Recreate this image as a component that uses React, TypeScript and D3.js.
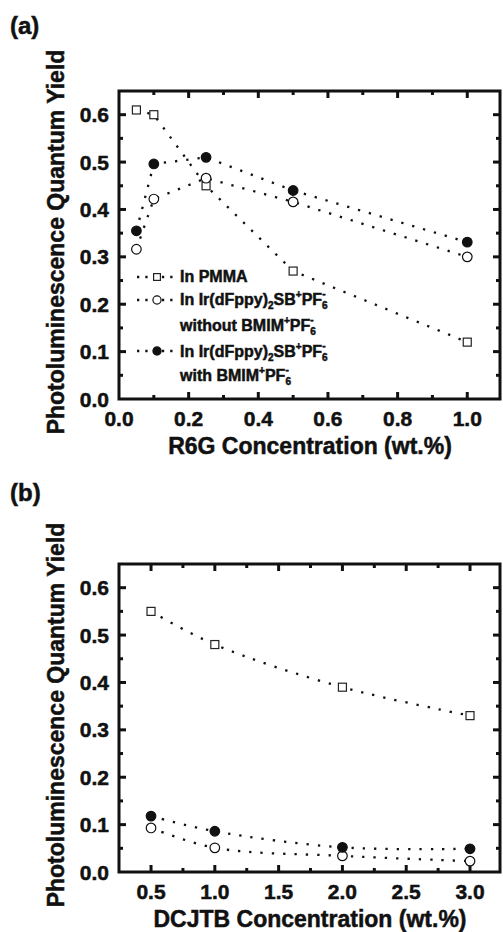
import React from 'react';
import * as d3 from 'd3';

// panel (a): R6G
const r6gConc = [0.05, 0.1, 0.25, 0.5, 1.0];
const r6gPMMA = [0.61, 0.6, 0.45, 0.27, 0.12];
const r6gWithout = [0.316, 0.422, 0.466, 0.416, 0.3];
const r6gWith = [0.355, 0.496, 0.51, 0.44, 0.331];

// panel (b): DCJTB
const dcjtbConc = [0.5, 1.0, 2.0, 3.0];
const dcjtbPMMA = [0.55, 0.48, 0.39, 0.33];
const dcjtbWithout = [0.093, 0.051, 0.034, 0.023];
const dcjtbWith = [0.118, 0.086, 0.052, 0.049];

const yMajor = [0, 0.1, 0.2, 0.3, 0.4, 0.5, 0.6];
const yMinor = [0.05, 0.15, 0.25, 0.35, 0.45, 0.55];
const r6gMajor = [0, 0.2, 0.4, 0.6, 0.8, 1.0];
const r6gMinor = [0.1, 0.3, 0.5, 0.7, 0.9];
const dcjtbMajor = [0.5, 1.0, 1.5, 2.0, 2.5, 3.0];
const dcjtbMinor = [0.75, 1.25, 1.75, 2.25, 2.75];

const FONT = '"Liberation Sans", Arial, Helvetica, sans-serif';
const INK = '#111';

const left = 119;
const right = 500;
const plotH = 308;

type Marker = 'square' | 'open' | 'filled';

function Symbol({ kind, x, y, s = 1 }: { kind: Marker; x: number; y: number; s?: number }) {
  if (kind === 'square') {
    const w = 8 * s;
    return <rect x={x - w / 2} y={y - w / 2} width={w} height={w} fill="#fff" stroke="#222" strokeWidth={1.2} />;
  }
  return (
    <circle cx={x} cy={y} r={4.8 * s} fill={kind === 'filled' ? INK : '#fff'} stroke={INK} strokeWidth={1.2} />
  );
}

function Panel({
  top, label, labelY, xDomain, xMajor, xMinor, xTitle, xs, series, curve, legend,
}: {
  top: number; label: string; labelY: number; xDomain: [number, number];
  xMajor: number[]; xMinor: number[]; xTitle: string; xs: number[];
  series: { kind: Marker; ys: number[] }[]; curve: d3.CurveFactory; legend?: boolean;
}) {
  const bottom = top + plotH;
  const x = d3.scaleLinear().domain(xDomain).range([left, right]);
  const y = d3.scaleLinear().domain([0, 0.65]).range([bottom, top]);
  const line = d3.line<number>().x((_, i) => x(xs[i])).y((d) => y(d)).curve(curve);
  const fmt = d3.format('.1f');
  const mid = (top + bottom) / 2;

  return (
    <g fontFamily={FONT} fontWeight="bold" fill={INK}>
      <text className="t" x={10} y={labelY} fontSize={24}>{label}</text>
      <text className="t" transform={`translate(64,${mid - 3}) rotate(-90)`} textAnchor="middle" fontSize={23}>
        Photoluminescence Quantum Yield
      </text>

      {series.map((s, i) => (
        <path key={'l' + i} d={line(s.ys) || ''} fill="none" stroke={INK} strokeWidth={2.3} strokeDasharray="2.3,9" />
      ))}

      {/* ticks */}
      <g stroke={INK} strokeWidth={3}>
        {yMajor.filter((v) => v > 0).map((v) => (
          <g key={'ym' + v}>
            <line x1={left} x2={left + 7} y1={y(v)} y2={y(v)} />
            <line x1={right} x2={right - 7} y1={y(v)} y2={y(v)} />
          </g>
        ))}
        {yMinor.map((v) => (
          <g key={'yn' + v}>
            <line x1={left} x2={left + 4} y1={y(v)} y2={y(v)} />
            <line x1={right} x2={right - 4} y1={y(v)} y2={y(v)} />
          </g>
        ))}
        {xMajor.filter((v) => x(v) > left + 1).map((v) => (
          <g key={'xm' + v}>
            <line x1={x(v)} x2={x(v)} y1={bottom} y2={bottom - 7} />
            <line x1={x(v)} x2={x(v)} y1={top} y2={top + 7} />
          </g>
        ))}
        {xMinor.map((v) => (
          <g key={'xn' + v}>
            <line x1={x(v)} x2={x(v)} y1={bottom} y2={bottom - 4} />
            <line x1={x(v)} x2={x(v)} y1={top} y2={top + 4} />
          </g>
        ))}
      </g>
      <rect x={left} y={top} width={right - left} height={plotH} fill="none" stroke={INK} strokeWidth={3} />

      {series.map((s, i) => (
        <g key={'m' + i}>
          {s.ys.map((v, j) => <Symbol key={j} kind={s.kind} x={x(xs[j])} y={y(v)} />)}
        </g>
      ))}

      {yMajor.map((v) => (
        <text className="t" key={'yl' + v} x={109} y={y(v)} dy="0.36em" textAnchor="end" fontSize={21}>{fmt(v)}</text>
      ))}
      {xMajor.map((v) => (
        <text className="t" key={'xl' + v} x={x(v)} y={bottom + 27} textAnchor="middle" fontSize={21}>{fmt(v)}</text>
      ))}
      <text className="t" x={310} y={bottom + 55} textAnchor="middle" fontSize={23}>{xTitle}</text>

      {legend && <Legend />}
    </g>
  );
}

function LegendKey({ kind, cy }: { kind: Marker; cy: number }) {
  return (
    <g>
      <line x1={137} x2={178} y1={cy} y2={cy} stroke={INK} strokeWidth={2.3} strokeDasharray="2.3,6" />
      <Symbol kind={kind} x={157} y={cy} s={0.85} />
    </g>
  );
}

// "PF6-" tail with stacked sub/superscript
function PF6({ ss }: { ss: number }) {
  return (
    <>
      <tspan dy={7}>PF</tspan><tspan fontSize={ss} dy={4}>6</tspan>
      <tspan fontSize={ss} dx={-5.5} dy={-12}>-</tspan>
    </>
  );
}

function Legend() {
  const fs = 16;
  const ss = 10;
  return (
    <g fontSize={fs}>
      <LegendKey kind="square" cy={277} />
      <LegendKey kind="open" cy={300} />
      <LegendKey kind="filled" cy={351} />
      <text className="t" x={180} y={282}>In PMMA</text>
      <text className="t" x={180} y={305}>
        In Ir(dFppy)<tspan fontSize={ss} dy={4}>2</tspan>
        <tspan dy={-4}>SB</tspan><tspan fontSize={ss} dy={-7}>+</tspan>
        <PF6 ss={ss} />
      </text>
      <text className="t" x={180} y={331}>
        without BMIM<tspan fontSize={ss} dy={-7}>+</tspan>
        <PF6 ss={ss} />
      </text>
      <text className="t" x={180} y={357}>
        In Ir(dFppy)<tspan fontSize={ss} dy={4}>2</tspan>
        <tspan dy={-4}>SB</tspan><tspan fontSize={ss} dy={-7}>+</tspan>
        <PF6 ss={ss} />
      </text>
      <text className="t" x={180} y={381}>
        with BMIM<tspan fontSize={ss} dy={-7}>+</tspan>
        <PF6 ss={ss} />
      </text>
    </g>
  );
}

export default function App() {
  return (
    <svg width={503} height={932} style={{ position: 'absolute', left: 0, top: 0, background: '#fff' }}>
      <style>{'.t { stroke: #111; stroke-width: 0.5px; }'}</style>
      <rect width={503} height={932} fill="#fff" />
      <Panel
        top={91} label="(a)" labelY={34} xDomain={[0, 1.094]} xMajor={r6gMajor} xMinor={r6gMinor}
        xTitle="R6G Concentration (wt.%)" xs={r6gConc} curve={d3.curveLinear} legend
        series={[
          { kind: 'square', ys: r6gPMMA },
          { kind: 'open', ys: r6gWithout },
          { kind: 'filled', ys: r6gWith },
        ]}
      />
      <Panel
        top={564} label="(b)" labelY={501} xDomain={[0.249, 3.235]} xMajor={dcjtbMajor} xMinor={dcjtbMinor}
        xTitle="DCJTB Concentration (wt.%)" xs={dcjtbConc} curve={d3.curveCatmullRom.alpha(0.5)}
        series={[
          { kind: 'square', ys: dcjtbPMMA },
          { kind: 'open', ys: dcjtbWithout },
          { kind: 'filled', ys: dcjtbWith },
        ]}
      />
    </svg>
  );
}
